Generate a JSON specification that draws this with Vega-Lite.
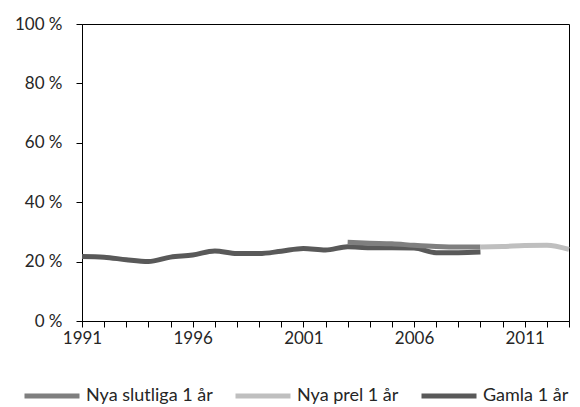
{
  "$schema": "https://vega.github.io/schema/vega-lite/v6.json",
  "width": 487,
  "height": 297,
  "autosize": {"type": "none"},
  "padding": {"left": 82, "top": 24, "right": 11, "bottom": 86},
  "config": {
    "view": {"stroke": "#000000", "strokeWidth": 1},
    "font": "Lato"
  },
  "data": {
    "values": [
      {"year": 1991, "series": "Gamla 1 år", "value": 21.7},
      {"year": 1992, "series": "Gamla 1 år", "value": 21.5},
      {"year": 1993, "series": "Gamla 1 år", "value": 20.6},
      {"year": 1994, "series": "Gamla 1 år", "value": 20.0},
      {"year": 1995, "series": "Gamla 1 år", "value": 21.5},
      {"year": 1996, "series": "Gamla 1 år", "value": 22.2},
      {"year": 1997, "series": "Gamla 1 år", "value": 23.6},
      {"year": 1998, "series": "Gamla 1 år", "value": 22.7},
      {"year": 1999, "series": "Gamla 1 år", "value": 22.7},
      {"year": 2000, "series": "Gamla 1 år", "value": 23.5},
      {"year": 2001, "series": "Gamla 1 år", "value": 24.4},
      {"year": 2002, "series": "Gamla 1 år", "value": 23.9},
      {"year": 2003, "series": "Gamla 1 år", "value": 25.0},
      {"year": 2004, "series": "Gamla 1 år", "value": 24.7},
      {"year": 2005, "series": "Gamla 1 år", "value": 24.7},
      {"year": 2006, "series": "Gamla 1 år", "value": 24.6},
      {"year": 2007, "series": "Gamla 1 år", "value": 23.0},
      {"year": 2008, "series": "Gamla 1 år", "value": 23.0},
      {"year": 2009, "series": "Gamla 1 år", "value": 23.2},
      {"year": 2003, "series": "Nya slutliga 1 år", "value": 26.5},
      {"year": 2004, "series": "Nya slutliga 1 år", "value": 26.2},
      {"year": 2005, "series": "Nya slutliga 1 år", "value": 26.0},
      {"year": 2006, "series": "Nya slutliga 1 år", "value": 25.5},
      {"year": 2007, "series": "Nya slutliga 1 år", "value": 25.1},
      {"year": 2008, "series": "Nya slutliga 1 år", "value": 24.9},
      {"year": 2009, "series": "Nya slutliga 1 år", "value": 24.9},
      {"year": 2009, "series": "Nya prel 1 år", "value": 24.9},
      {"year": 2010, "series": "Nya prel 1 år", "value": 25.1},
      {"year": 2011, "series": "Nya prel 1 år", "value": 25.4},
      {"year": 2012, "series": "Nya prel 1 år", "value": 25.5},
      {"year": 2013, "series": "Nya prel 1 år", "value": 24.1}
    ]
  },
  "mark": {"type": "line", "strokeWidth": 5, "strokeCap": "butt", "strokeJoin": "round", "interpolate": "monotone"},
  "encoding": {
    "x": {
      "field": "year",
      "type": "quantitative",
      "scale": {"domain": [1991, 2013], "nice": false, "zero": false},
      "axis": {
        "title": null,
        "grid": false,
        "values": [1991,1992,1993,1994,1995,1996,1997,1998,1999,2000,2001,2002,2003,2004,2005,2006,2007,2008,2009,2010,2011,2012,2013],
        "labelExpr": "(datum.value - 1991) % 5 == 0 ? datum.value : ''",
        "format": "d",
        "domainColor": "#000000",
        "tickColor": "#000000",
        "tickSize": 6,
        "labelFontSize": 17,
        "labelColor": "#262626",
        "labelPadding": 3,
        "labelFlush": false
      }
    },
    "y": {
      "field": "value",
      "type": "quantitative",
      "scale": {"domain": [0, 100], "nice": false},
      "axis": {
        "title": null,
        "grid": false,
        "values": [0, 20, 40, 60, 80, 100],
        "labelExpr": "datum.value + ' %'",
        "domainColor": "#000000",
        "tickColor": "#000000",
        "tickSize": 6,
        "labelFontSize": 17,
        "labelColor": "#262626",
        "labelPadding": 14
      }
    },
    "color": {
      "field": "series",
      "type": "nominal",
      "scale": {
        "domain": ["Nya slutliga 1 år", "Nya prel 1 år", "Gamla 1 år"],
        "range": ["#7f7f7f", "#bfbfbf", "#595959"]
      },
      "legend": {
        "title": null,
        "orient": "none",
        "direction": "horizontal",
        "legendX": -60,
        "legendY": 342,
        "symbolType": "stroke",
        "symbolSize": 3025,
        "symbolStrokeWidth": 5,
        "labelFontSize": 18,
        "labelColor": "#262626",
        "labelOffset": 4,
        "columnPadding": 12
      }
    },
    "order": {"field": "series"}
  }
}
